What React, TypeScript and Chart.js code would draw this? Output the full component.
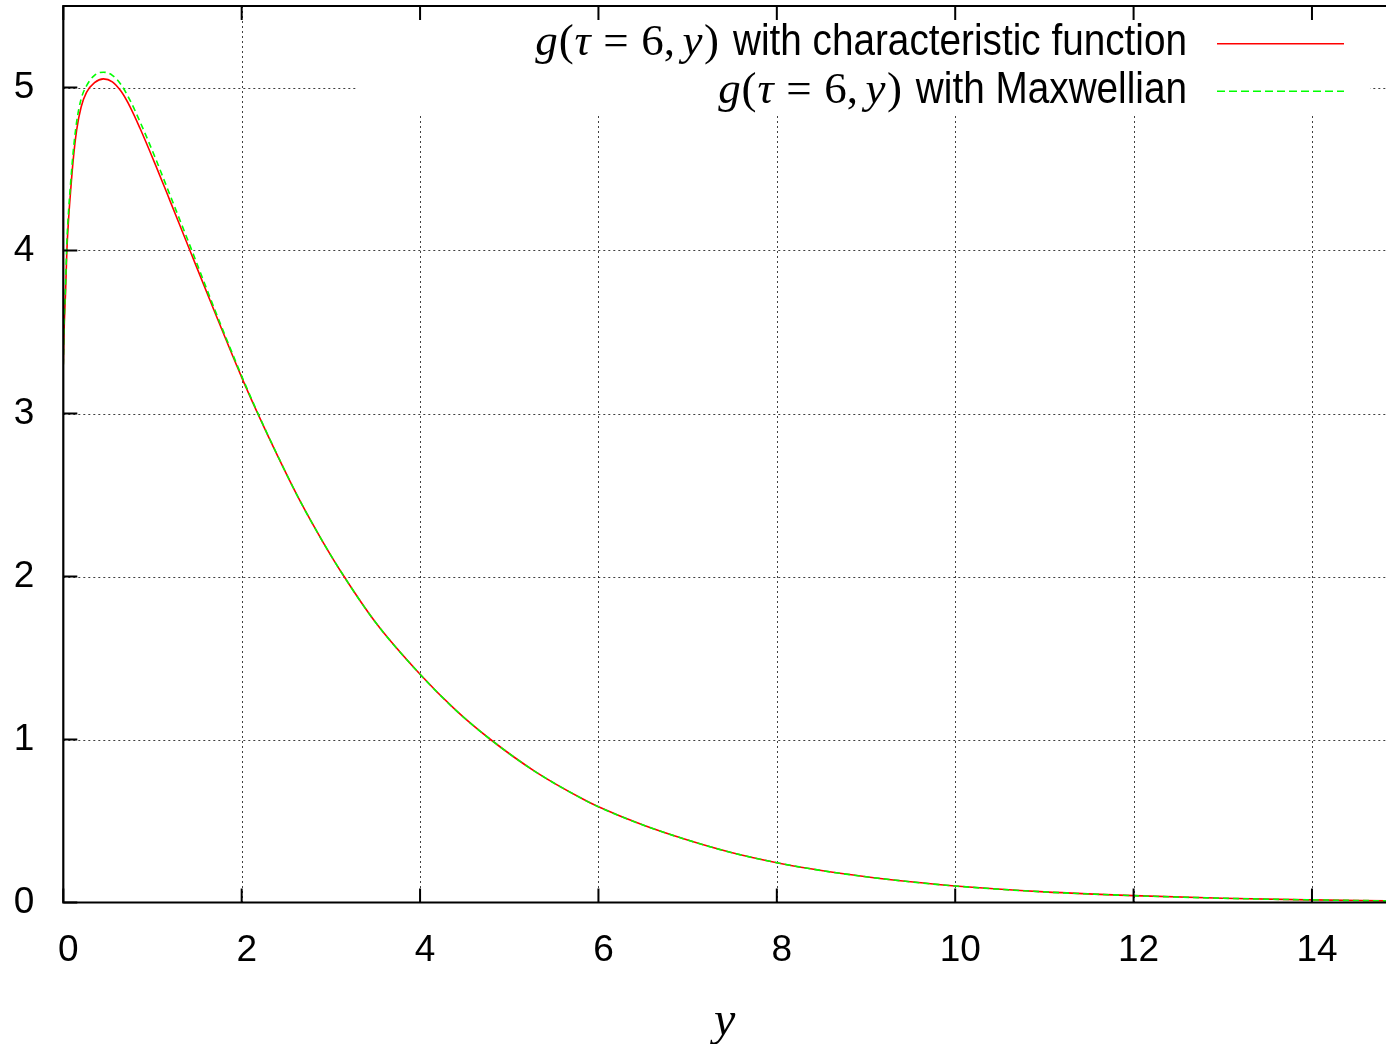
import React, { useEffect, useRef } from 'react';
import { Chart, registerables } from 'chart.js';

Chart.register(...registerables);

// ---- data ----
const yValues = [
  0, 0.01, 0.025, 0.04, 0.06, 0.08, 0.11, 0.15, 0.2, 0.26, 0.35, 0.45, 0.55, 0.65, 0.75, 0.86,
  1.03, 1.2, 1.42, 1.7, 2.0, 2.16, 2.4, 2.65, 2.9, 3.13, 3.5, 4.0, 4.4, 4.79, 5.3, 5.83, 6.0,
  6.5, 7.0, 7.5, 8.0, 8.5, 9.0, 9.5, 10, 11, 12, 13, 14, 14.83,
];
const gCharacteristic = [
  3.3, 3.53, 3.74, 4.0, 4.2, 4.35, 4.55, 4.74, 4.88, 4.97, 5.03, 5.053, 5.035, 4.975, 4.88, 4.75,
  4.53, 4.3, 4.0, 3.62, 3.222, 3.024, 2.743, 2.468, 2.222, 2.015, 1.719, 1.4, 1.18, 1.0, 0.8, 0.633, 0.587,
  0.475, 0.383, 0.305, 0.244, 0.196, 0.158, 0.127, 0.101, 0.065, 0.042, 0.026, 0.016, 0.01,
];
const gMaxwellian = [
  3.3, 3.56, 3.78, 4.05, 4.25, 4.4, 4.6, 4.79, 4.93, 5.01, 5.075, 5.094, 5.075, 5.015, 4.92, 4.79,
  4.57, 4.335, 4.03, 3.635, 3.23, 3.028, 2.745, 2.468, 2.222, 2.015, 1.719, 1.4, 1.18, 1.0, 0.8, 0.633, 0.587,
  0.475, 0.383, 0.305, 0.244, 0.196, 0.158, 0.127, 0.101, 0.065, 0.042, 0.026, 0.016, 0.01,
];
const xTickValues = [0, 2, 4, 6, 8, 10, 12, 14];
const yTickValues = [0, 1, 2, 3, 4, 5];
// math part of the key entries: text, italic?, extra space after (in em)
const legendMath = [
  { t: 'g', italic: true, after: 0.02 },
  { t: '(', italic: false, after: 0.02 },
  { t: 'τ', italic: true, after: 0.28 },
  { t: '=', italic: false, after: 0.28 },
  { t: '6', italic: false, after: 0 },
  { t: ',', italic: false, after: 0.17 },
  { t: 'y', italic: true, after: 0.03 },
  { t: ')', italic: false, after: 0 },
];
const legendTexts = ['with characteristic function', 'with Maxwellian'];
const seriesColors = ['#ff0000', '#00ff00'];
const xAxisTitle = 'y';

const X_MAX = 14.83;
const Y_MAX = 5.5;

const SANS = "'Liberation Sans', Arial, Helvetica, sans-serif";
const SERIF = "'Liberation Serif', 'Times New Roman', serif";

const gnuplotPlugin = {
  id: 'gnuplotDecor',
  beforeDatasetsDraw(chart: any) {
    const { ctx, chartArea, scales } = chart;
    const { left, right, top, bottom } = chartArea;
    ctx.save();
    // dotted grid
    ctx.strokeStyle = 'rgba(0,0,0,0.75)';
    ctx.lineWidth = 1;
    ctx.setLineDash([2, 3]);
    ctx.beginPath();
    scales.x.ticks.forEach((t: any) => {
      if (t.value <= 0) return;
      const px = Math.round(scales.x.getPixelForValue(t.value)) + 0.5;
      ctx.moveTo(px, top);
      ctx.lineTo(px, bottom);
    });
    scales.y.ticks.forEach((t: any) => {
      if (t.value <= 0) return;
      const py = Math.round(scales.y.getPixelForValue(t.value)) + 0.5;
      ctx.moveTo(left, py);
      ctx.lineTo(right, py);
    });
    ctx.stroke();
    ctx.setLineDash([]);
    // opaque key box
    const w = right - left;
    ctx.fillStyle = '#ffffff';
    ctx.fillRect(left + w * 0.222, top + 1, w * 0.766, 109);
    ctx.restore();
  },
  afterDatasetsDraw(chart: any) {
    const { ctx, chartArea, scales } = chart;
    const { left, right, top, bottom } = chartArea;
    ctx.save();
    // border
    ctx.strokeStyle = '#000';
    ctx.lineWidth = 2.2;
    ctx.beginPath();
    ctx.moveTo(right + 2, top);
    ctx.lineTo(left, top);
    ctx.lineTo(left, bottom);
    ctx.lineTo(right + 2, bottom);
    ctx.stroke();
    // inward ticks
    const tl = 14;
    ctx.lineWidth = 2;
    ctx.beginPath();
    scales.x.ticks.forEach((t: any) => {
      const px = scales.x.getPixelForValue(t.value);
      ctx.moveTo(px, bottom);
      ctx.lineTo(px, bottom - tl);
      ctx.moveTo(px, top);
      ctx.lineTo(px, top + tl);
    });
    scales.y.ticks.forEach((t: any) => {
      const py = scales.y.getPixelForValue(t.value);
      ctx.moveTo(left, py);
      ctx.lineTo(left + tl, py);
    });
    ctx.stroke();

    // key
    const textRight = 1187;
    const sampleX0 = 1217;
    const sampleX1 = 1344;
    const baselines = [55, 103];
    const centers = [43.7, 91.3];
    const sansSize = 44;
    const sx = 0.88;
    const mathSize = 45;
    legendTexts.forEach((txt, i) => {
      ctx.fillStyle = '#000';
      ctx.textBaseline = 'alphabetic';
      ctx.textAlign = 'left';
      ctx.font = `${sansSize}px ${SANS}`;
      const sansW = ctx.measureText(txt).width * sx;
      const widths = legendMath.map((seg) => {
        ctx.font = `${seg.italic ? 'italic ' : ''}${mathSize}px ${SERIF}`;
        return ctx.measureText(seg.t).width + seg.after * mathSize;
      });
      const mathW = widths.reduce((a, b) => a + b, 0);
      const gap = 14;
      let x = textRight - sansW - gap - mathW;
      legendMath.forEach((seg, k) => {
        ctx.font = `${seg.italic ? 'italic ' : ''}${mathSize}px ${SERIF}`;
        ctx.fillText(seg.t, x, baselines[i]);
        x += widths[k];
      });
      ctx.save();
      ctx.translate(textRight - sansW, baselines[i]);
      ctx.scale(sx, 1);
      ctx.font = `${sansSize}px ${SANS}`;
      ctx.fillText(txt, 0, 0);
      ctx.restore();
      // sample
      ctx.strokeStyle = seriesColors[i];
      ctx.lineWidth = 1.5;
      ctx.setLineDash(i === 0 ? [] : [8, 4]);
      ctx.beginPath();
      ctx.moveTo(sampleX0, centers[i]);
      ctx.lineTo(sampleX1, centers[i]);
      ctx.stroke();
      ctx.setLineDash([]);
    });
    ctx.restore();
  },
};

export default function App() {
  const canvasRef = useRef<HTMLCanvasElement | null>(null);

  useEffect(() => {
    const canvas = canvasRef.current;
    if (!canvas) return;
    const mk = (arr: number[]) => yValues.map((x, i) => ({ x, y: arr[i] }));
    const chart = new Chart(canvas, {
      type: 'line',
      data: {
        datasets: [
          {
            label: 'g(τ = 6, y) with characteristic function',
            data: mk(gCharacteristic),
            borderColor: seriesColors[0],
            borderWidth: 1.6,
            pointRadius: 0,
            cubicInterpolationMode: 'monotone',
            fill: false,
            order: 1,
          },
          {
            label: 'g(τ = 6, y) with Maxwellian',
            data: mk(gMaxwellian),
            borderColor: seriesColors[1],
            borderWidth: 1.6,
            borderDash: [6, 4],
            pointRadius: 0,
            cubicInterpolationMode: 'monotone',
            fill: false,
            order: 0,
          },
        ],
      },
      options: {
        animation: false,
        responsive: false,
        devicePixelRatio: 1,
        events: [],
        layout: { padding: { top: 6, left: 0, right: 0, bottom: 0 } },
        plugins: { legend: { display: false }, tooltip: { enabled: false } },
        scales: {
          x: {
            type: 'linear',
            min: 0,
            max: X_MAX,
            afterFit: (s: any) => {
              s.height = 1044 - 902.5;
              s.paddingLeft = 0;
              s.paddingRight = 0;
              s.paddingTop = 0;
              s.paddingBottom = 0;
            },
            afterBuildTicks: (s: any) => {
              s.ticks = xTickValues.map((v) => ({ value: v }));
            },
            grid: { display: false, drawTicks: false },
            border: { display: false },
            ticks: {
              color: '#000',
              font: { family: SANS, size: 37 },
              padding: 26,
              labelOffset: 5,
              maxRotation: 0,
              autoSkip: false,
              callback: (v: any) => String(v),
            },
            title: {
              display: true,
              text: xAxisTitle,
              color: '#000',
              font: { family: SERIF, style: 'italic', size: 48, lineHeight: 0.9 },
              padding: { top: 0, bottom: 0 },
            },
          },
          y: {
            type: 'linear',
            min: 0,
            max: Y_MAX,
            afterFit: (s: any) => {
              s.width = 63.3;
              s.paddingLeft = 0;
              s.paddingRight = 0;
              s.paddingTop = 0;
              s.paddingBottom = 0;
            },
            afterBuildTicks: (s: any) => {
              s.ticks = yTickValues.map((v) => ({ value: v }));
            },
            grid: { display: false, drawTicks: false },
            border: { display: false },
            ticks: {
              color: '#000',
              font: { family: SANS, size: 37 },
              padding: 29,
              autoSkip: false,
              callback: (v: any) => String(v),
            },
          },
        },
      },
      plugins: [gnuplotPlugin],
    } as any);
    return () => chart.destroy();
  }, []);

  return (
    <div style={{ position: 'absolute', left: 0, top: 0, width: 1386, height: 1044, background: '#fff' }}>
      <canvas ref={canvasRef} width={1386} height={1044} style={{ display: 'block' }} />
    </div>
  );
}
